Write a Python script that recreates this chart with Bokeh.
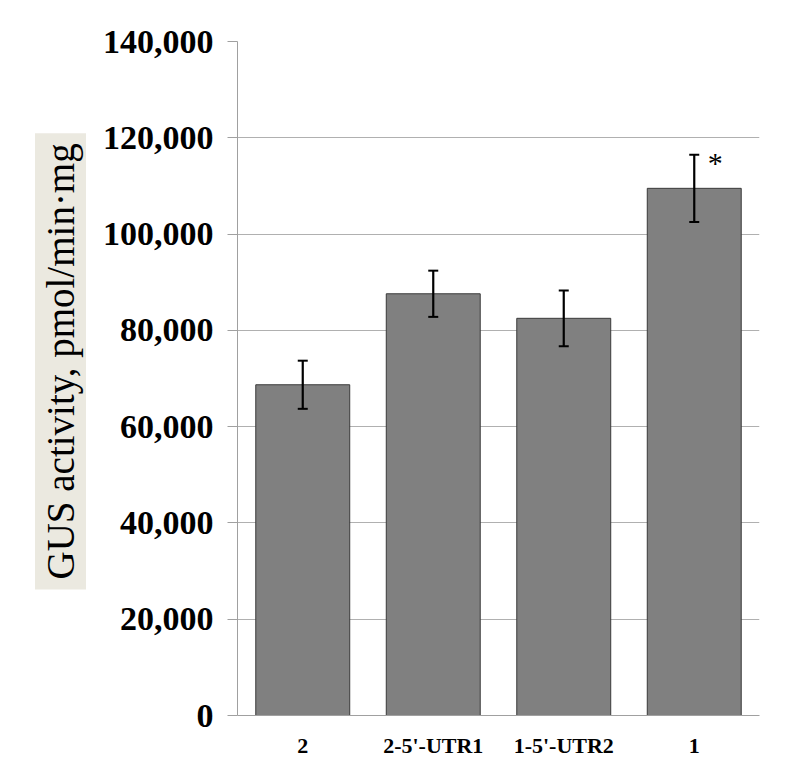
from bokeh.plotting import figure
from bokeh.models import ColumnDataSource, Whisker, TeeHead, FixedTicker, NumeralTickFormatter, Title
from bokeh.core.properties import value
from bokeh.embed import file_html
from bokeh.resources import INLINE

categories = ["2", "2-5'-UTR1", "1-5'-UTR2", "1"]
values = [68700, 87600, 82500, 109500]
errors = [5000, 4800, 5800, 7000]
marks = ["", "", "", "*"]
y_ticks = [0, 20000, 40000, 60000, 80000, 100000, 120000, 140000]
y_label = "GUS activity, pmol/min\u00b7mg"

src = ColumnDataSource(dict(
    cat=categories,
    val=values,
    upper=[v + e for v, e in zip(values, errors)],
    lower=[v - e for v, e in zip(values, errors)],
    mark=marks,
))

p = figure(x_range=categories, y_range=(0, 140000), width=790, height=774,
           output_backend="svg", toolbar_location=None,
           min_border_left=237, min_border_right=31, min_border_top=41, min_border_bottom=59)
p.outline_line_color = None
p.background_fill_color = "white"

p.vbar(x="cat", top="val", width=0.72, source=src,
       fill_color="#808080", line_color="#3a3a3a", line_width=1)

w = Whisker(base="cat", upper="upper", lower="lower", source=src, level="annotation",
            line_color="black", line_width=2.2,
            upper_head=TeeHead(size=10, line_color="black", line_width=2),
            lower_head=TeeHead(size=10, line_color="black", line_width=2))
p.add_layout(w)

p.text(x="cat", y="upper", text="mark", source=src, x_offset=21, y_offset=8,
       text_font=value("Liberation Serif"), text_font_size="30px",
       text_align="center", text_baseline="middle", text_color="black")

# grid
p.xgrid.grid_line_color = None
p.ygrid.grid_line_color = "#b0b0b0"
p.ygrid.grid_line_width = 1.2

# y axis
p.yaxis.ticker = FixedTicker(ticks=y_ticks)
p.yaxis.formatter = NumeralTickFormatter(format="0,0")
p.yaxis.axis_line_color = "#a0a0a0"
p.yaxis.major_tick_line_color = "#a0a0a0"
p.yaxis.major_tick_out = 10
p.yaxis.major_tick_in = 0
p.yaxis.minor_tick_line_color = None
p.yaxis.major_label_standoff = 14
p.yaxis.major_label_text_font = "Liberation Serif"
p.yaxis.major_label_text_font_style = "bold"
p.yaxis.major_label_text_font_size = "34px"
p.yaxis.major_label_text_color = "black"

# x axis
p.xaxis.axis_line_color = "#a0a0a0"
p.xaxis.major_tick_line_color = None
p.xaxis.minor_tick_line_color = None
p.xaxis.major_tick_out = 0
p.xaxis.major_label_standoff = 17
p.xaxis.major_label_text_font = "Liberation Serif"
p.xaxis.major_label_text_font_style = "bold"
p.xaxis.major_label_text_font_size = "22px"
p.xaxis.major_label_text_color = "black"

t = Title(text=y_label, align="left", offset=126,
          text_font="Liberation Serif", text_font_style="normal",
          text_font_size="39px", text_color="black",
          background_fill_color="#ebe9e0", padding=(10, 4), standoff=27)
p.add_layout(t, "left")

open("out.html", "w").write(file_html(p, INLINE))
